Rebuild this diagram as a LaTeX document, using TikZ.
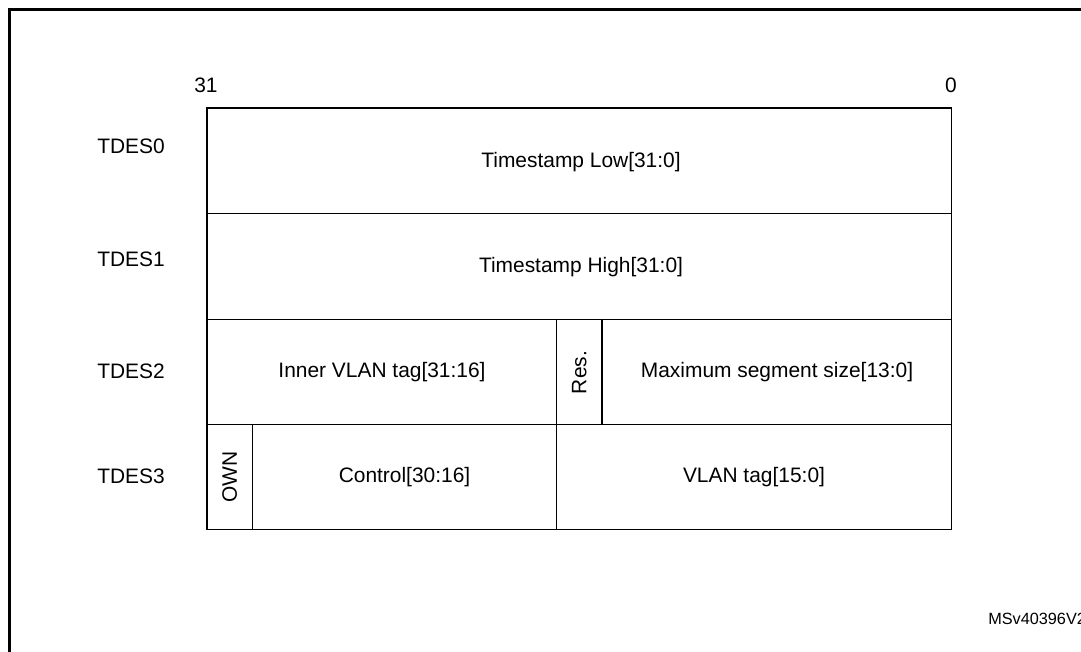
\documentclass[tikz,border=0pt]{standalone}
\usepackage{fontspec}
\setmainfont{Liberation Sans}
\begin{document}
\begin{tikzpicture}[x=0.75pt,y=-0.75pt,
  grid/.style={line width=0.8pt,draw=black},
  lbl/.style={inner sep=0pt,font=\fontsize{15.7pt}{18pt}\selectfont},
  small/.style={inner sep=0pt,font=\fontsize{12.2pt}{14pt}\selectfont}]
\useasboundingbox (0,0) rectangle (1081,652);
\begin{scope}
\clip (0,0) rectangle (1081,652);
\draw[line width=1.6pt] (9.5,700) -- (9.5,9.5) -- (1120,9.5);
\end{scope}
% grid
\draw[grid] (207,108) rectangle (951.7,529.7);
\draw[grid] (207,213.7) -- (951.7,213.7);
\draw[grid] (207,319.2) -- (951.7,319.2);
\draw[grid] (207,424.5) -- (951.7,424.5);
\draw[grid] (556.7,319.2) -- (556.7,529.7);
\draw[grid] (602,319.2) -- (602,424.5);
\draw[grid] (252.3,424.5) -- (252.3,529.7);
% bit numbers
\node[lbl] (b31) at (206,85) {31};
\node[lbl] (b0) at (951,85) {0};
% row names
\node[lbl] (t0) at (131,146) {TDES0};
\node[lbl] (t1) at (131,259) {TDES1};
\node[lbl] (t2) at (131,371) {TDES2};
\node[lbl] (t3) at (131,476) {TDES3};
% fields
\node[lbl] (tsl) at (581,162) {Timestamp Low[31:0]};
\node[lbl] (tsh) at (581,267) {Timestamp High[31:0]};
\node[lbl] (ivt) at (382,372) {Inner VLAN tag[31:16]};
\node[lbl,rotate=90] (res) at (579.3,372.5) {Res.};
\node[lbl] (mss) at (777,372) {Maximum segment size[13:0]};
\node[lbl,rotate=90] (own) at (229.6,477) {OWN};
\node[lbl] (ctl) at (404.5,477) {Control[30:16]};
\node[lbl] (vt) at (754,477) {VLAN tag[15:0]};
\node[small,anchor=west] (id) at (988,619) {MSv40396V2};
\end{tikzpicture}
\end{document}
